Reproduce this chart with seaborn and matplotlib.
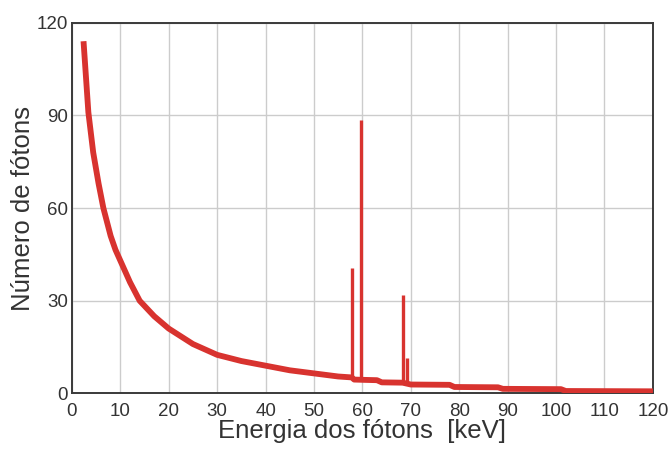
import numpy as np
import matplotlib
matplotlib.use("Agg")
import matplotlib.pyplot as plt
import seaborn as sns

# continuum (bremsstrahlung)
energy = [2.4, 3.4, 4.4, 5.5, 6.5, 8, 9, 10, 12, 14, 17, 20, 25, 30, 35, 40, 45, 50, 55,
          57.8, 58.3, 60.5, 63, 64, 68.3, 70, 78, 79, 88, 89, 101, 102, 120]
counts = [114, 91, 78, 68, 60, 51, 46.5, 43, 36, 30, 25, 21, 16, 12.5, 10.5, 9, 7.5, 6.5, 5.5,
          5.2, 4.5, 4.4, 4.3, 3.6, 3.5, 2.9, 2.8, 2.1, 2.0, 1.5, 1.4, 0.8, 0.7]

# characteristic lines
peak_energy = [57.9, 59.7, 68.3, 69.3]
peak_height = [40.5, 88.5, 32, 11.5]

xticks = list(range(0, 121, 10))
yticks = [0, 30, 60, 90, 120]

red = "#d8332f"

sns.set_style("white")
plt.rcParams["font.family"] = ["Liberation Sans", "DejaVu Sans"]

fig = plt.figure(figsize=(6.72, 4.5), dpi=100)
ax = fig.add_axes([0.107, 0.1256, 0.8646, 0.824])

# spikes start on the continuum so nothing shows below the curve
base = np.interp(peak_energy, energy, counts)
ax.vlines(peak_energy, base, peak_height, color=red, lw=2.4, zorder=3)
sns.lineplot(x=energy, y=counts, ax=ax, color=red, lw=4.2, zorder=4,
             solid_capstyle="butt")

ax.set_xlim(0, 120)
ax.set_ylim(0, 120)
ax.set_xticks(xticks)
ax.set_yticks(yticks)
ax.grid(True, color="#cccccc", lw=1.0)
ax.set_axisbelow(True)
ax.tick_params(axis="both", length=0, labelsize=13.5, colors="#333333")
ax.tick_params(axis="x", pad=7)
ax.tick_params(axis="y", pad=3)
for s in ax.spines.values():
    s.set_color("#3a3a3a")
    s.set_linewidth(1.4)

ax.set_xlabel("Energia dos fótons  [keV]", fontsize=18.5, color="#333333", labelpad=-1)
ax.set_ylabel("Número de fótons", fontsize=18.5, color="#333333", labelpad=1)

fig.savefig("out.png", dpi=100)
